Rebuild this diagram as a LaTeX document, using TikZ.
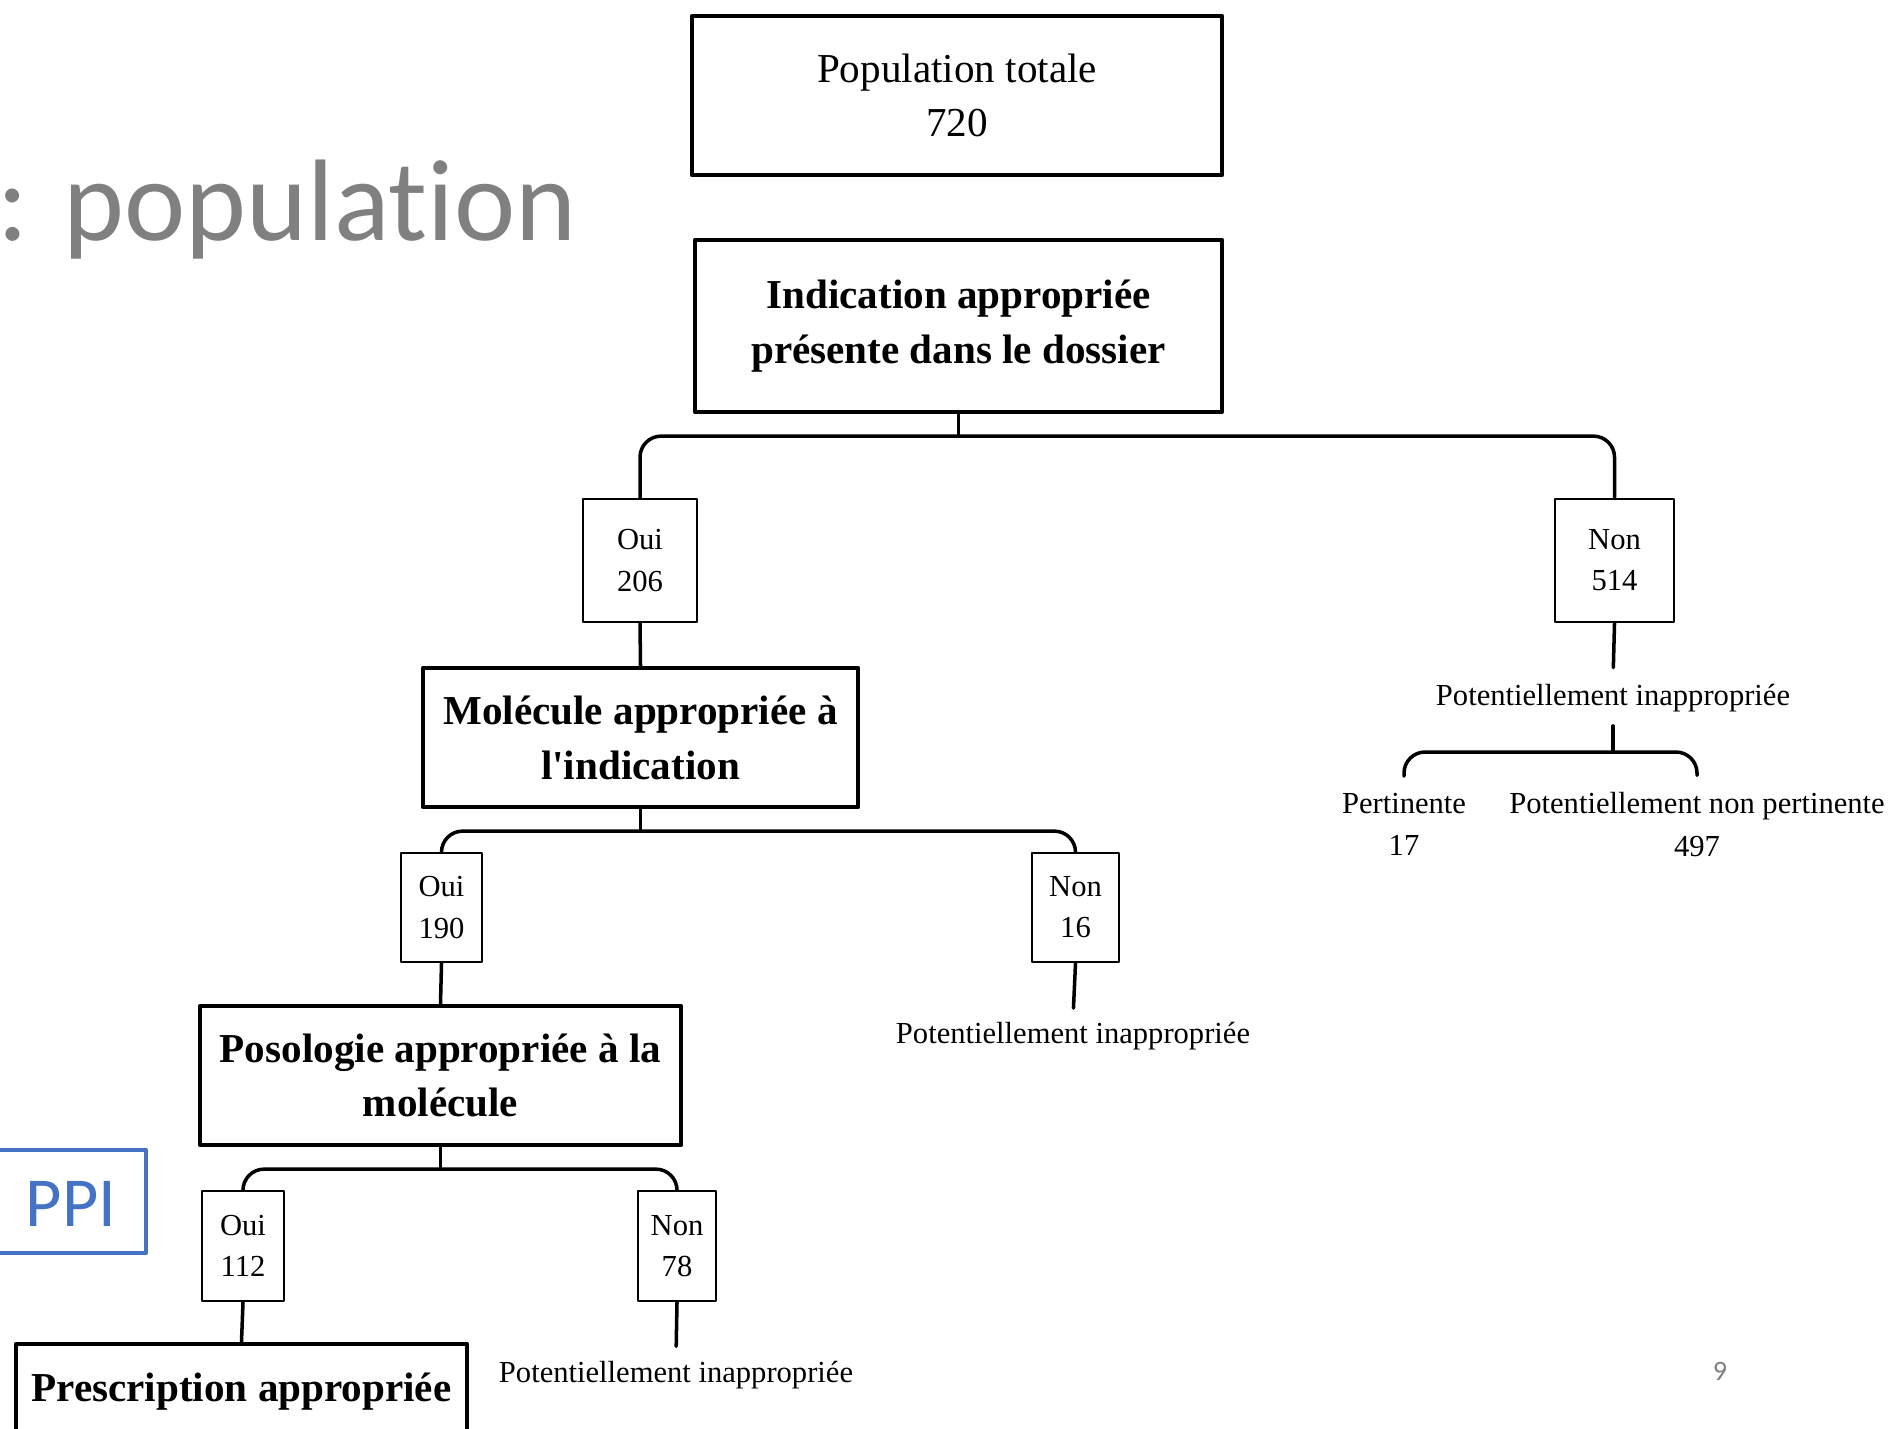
\documentclass[tikz,border=0pt]{standalone}
\usepackage{fontspec}
\setmainfont{Liberation Serif}
\newfontfamily\slidefont[Ligatures=NoCommon]{Carlito}
\usetikzlibrary{calc}
\definecolor{slidegray}{RGB}{128,128,128}
\definecolor{ppiblue}{RGB}{68,114,196}
\begin{document}
\begin{tikzpicture}[line join=round, line cap=round,
    bigbox/.style={draw, line width=1.2pt, align=center, font=\fontsize{11.7}{15.6}\selectfont},
    qbox/.style={bigbox, font=\fontsize{11.7}{15.6}\selectfont\bfseries},
    ansbox/.style={draw, line width=.8pt, align=center, inner sep=0pt, font=\fontsize{8.7}{11.7}\selectfont},
    outcome/.style={align=center, inner sep=1pt, font=\fontsize{8.7}{12}\selectfont},
    branch/.style={line width=1pt, rounded corners=6pt}]
    \useasboundingbox (0,0) rectangle (18.94,-14.28);
    % slide
    \node[anchor=west, inner sep=0pt, text=slidegray, font=\slidefont\fontsize{33}{40}\selectfont] (title) at (-0.03,-2.1) {: population};
    \node[draw=ppiblue, line width=1.2pt, text=ppiblue, font=\slidefont\fontsize{20}{24}\selectfont, minimum width=1.5cm, minimum height=1.03cm, text depth=0pt, text height=14pt] (ppi) at (0.71,-12.015) {PPI};
    \node[text=slidegray, font=\slidefont\fontsize{8}{10}\selectfont] (pg) at (17.2,-13.71) {9};
    % boxes
    \node[bigbox, minimum width=5.3cm, minimum height=1.59cm] (tot) at (9.57,-0.955) {Population totale\\720};
    \node[qbox, minimum width=5.27cm, minimum height=1.72cm] (ind) at (9.585,-3.26) {Indication appropriée\\présente dans le dossier};
    \node[ansbox, minimum width=1.14cm, minimum height=1.23cm] (oui1) at (6.40,-5.605) {Oui\\206};
    \node[ansbox, minimum width=1.19cm, minimum height=1.23cm] (non1) at (16.145,-5.605) {Non\\514};
    \node[qbox, minimum width=4.35cm, minimum height=1.39cm] (mol) at (6.405,-7.375) {Molécule appropriée à\\l\textquotesingle indication};
    \node[outcome] (pi1) at (16.13,-6.98) {Potentiellement inappropriée};
    \node[outcome] (pert) at (14.04,-8.245) {Pertinente\\17};
    \node[outcome] (pnp) at (16.97,-8.245) {Potentiellement non pertinente\\497};
    \node[ansbox, minimum width=.81cm, minimum height=1.09cm] (oui2) at (4.415,-9.075) {Oui\\190};
    \node[ansbox, minimum width=.87cm, minimum height=1.09cm] (non2) at (10.755,-9.075) {Non\\16};
    \node[outcome] (pi2) at (10.73,-10.36) {Potentiellement inappropriée};
    \node[qbox, minimum width=4.81cm, minimum height=1.39cm] (poso) at (4.405,-10.755) {Posologie appropriée à la\\molécule};
    \node[ansbox, minimum width=.82cm, minimum height=1.10cm] (oui3) at (2.43,-12.46) {Oui\\112};
    \node[ansbox, minimum width=.78cm, minimum height=1.10cm] (non3) at (6.77,-12.46) {Non\\78};
    \node[outcome] (pi3) at (6.76,-13.75) {Potentiellement inappropriée};
    \node[qbox, minimum width=4.51cm, minimum height=.95cm] (presc) at (2.415,-13.915) {Prescription appropriée};
    % branches
    \coordinate (j1) at ($(ind.south)+(0,-.22)$);
    \draw[branch] (ind.south) -- (j1);
    \draw[branch] (oui1.north) |- (j1) -| (non1.north);
    \draw[branch] (oui1.south) -- (mol.north);
    \draw[branch, shorten >=3.5pt] (non1.south) -- (pi1.north);
    \coordinate (j2) at (pi1.south |- 0,-7.52);
    \draw[branch, shorten <=2.8pt] (pi1.south) -- (j2);
    \draw[branch, shorten <=3.7pt, shorten >=3.7pt] (pert.north) |- (j2) -| (pnp.north);
    \coordinate (j3) at ($(mol.south)+(0,-.22)$);
    \draw[branch] (mol.south) -- (j3);
    \draw[branch] (oui2.north) |- (j3) -| (non2.north);
    \draw[branch] (oui2.south) -- (poso.north);
    \draw[branch, shorten >=2.8pt] (non2.south) -- (pi2.north);
    \coordinate (j4) at ($(poso.south)+(0,-.22)$);
    \draw[branch] (poso.south) -- (j4);
    \draw[branch] (oui3.north) |- (j4) -| (non3.north);
    \draw[branch] (oui3.south) -- (presc.north);
    \draw[branch, shorten >=3pt] (non3.south) -- (pi3.north);
\end{tikzpicture}
\end{document}
